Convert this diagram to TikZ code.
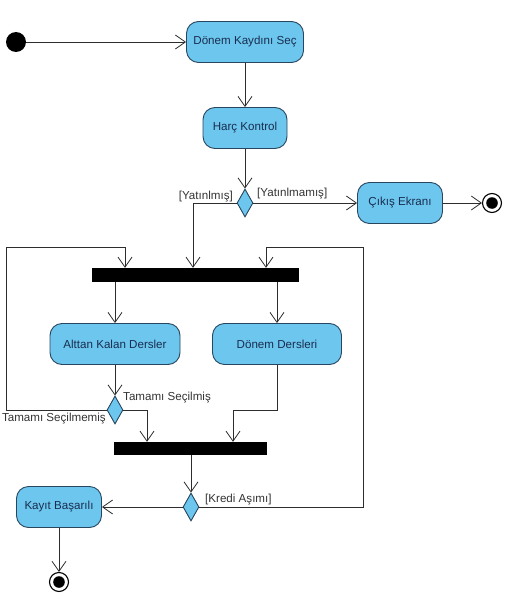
\documentclass[tikz,border=0pt]{standalone}
\usepackage{fontspec}
\setmainfont{Liberation Sans}
\usetikzlibrary{arrows.meta,shapes.geometric}
\definecolor{actfill}{RGB}{108,198,238}
\definecolor{actline}{RGB}{40,70,95}
\definecolor{acttext}{RGB}{25,45,80}
\definecolor{wire}{RGB}{45,45,45}
\tikzset{
	act/.style={draw=actline, fill=actfill, rounded corners=12pt, minimum height=41pt, inner sep=2pt, line width=0.9pt, text=acttext, font=\fontsize{11.6}{13}\selectfont},
	dec/.style={draw=actline, fill=actfill, diamond, minimum width=16pt, minimum height=28pt, inner sep=0pt, line width=0.9pt},
	bar/.style={fill=black, inner sep=0pt},
	flow/.style={draw=wire, line width=0.8pt, -{Straight Barb[length=10pt,width=14pt]}},
	lbl/.style={inner sep=1pt, text=black!80, font=\fontsize{11.6}{13}\selectfont},
	startdot/.style={circle, fill=black, minimum size=20pt, inner sep=0pt},
	enddot/.style={circle, draw=black, fill=white, line width=1.1pt, minimum size=19pt, inner sep=0pt,
		path picture={\fill[black] (path picture bounding box.center) circle (5.8pt);}}
}
\begin{document}
\begin{tikzpicture}[x=1pt, y=-1pt]
			%%%%% START %%%%%
			\useasboundingbox (0,0) rectangle (504,615);
			
			\node[startdot] (init) at (16, 42) {};
			\node[act, minimum width=117pt] (donemkayit) at (245, 42) {Dönem Kaydını Seç};
			\node[act, minimum width=84pt] (harc) at (245, 128) {Harç Kontrol};
			\node[dec] (odeme) at (245, 203) {};
			\node[act, minimum width=85pt] (cikis) at (400, 203) {Çıkış Ekranı};
			\node[enddot] (bitis1) at (492, 203) {};
			
			\node[bar, minimum width=207pt, minimum height=14pt] (fork) at (195.5, 275) {};
			\node[act, minimum width=130pt] (alttan) at (115, 344) {Alttan Kalan Dersler};
			\node[act, minimum width=129pt] (donemders) at (277, 344) {Dönem Dersleri};
			\node[dec] (secim) at (115, 410) {};
			\node[bar, minimum width=153pt, minimum height=13pt] (join) at (190.5, 448.5) {};
			\node[dec] (kredi) at (191, 507) {};
			\node[act, minimum width=85pt] (kayit) at (59, 507) {Kayıt Başarılı};
			\node[enddot] (bitis2) at (59, 582) {};
			
			\node[lbl, anchor=east] (yatmis) at (234, 197) {[Yatınlmış]};
			\node[lbl, anchor=west] (yatmamis) at (256, 194) {[Yatınlmamış]};
			\node[lbl, anchor=west] (tamam) at (122, 398) {Tamamı Seçilmiş};
			\node[lbl, anchor=east] (eksik) at (107, 419) {Tamamı Seçilmemiş};
			\node[lbl, anchor=west] (asim) at (204, 500) {[Kredi Aşımı]};
			
			\coordinate (forkin) at (193, 0);
			\coordinate (solgeri) at (6, 247);
			\coordinate (solin) at (125, 0);
			\coordinate (saggeri) at (363, 247);
			\coordinate (sagin) at (266, 0);
			\coordinate (joinin) at (147, 0);
			\coordinate (donemdon) at (233, 410);
			
			\draw[flow] (init) -- (donemkayit);
			\draw[flow] (donemkayit) -- (harc);
			\draw[flow] (harc) -- (odeme);
			\draw[flow] (odeme) -- (cikis);
			\draw[flow] (cikis) -- (bitis1);
			\draw[flow] (odeme.west) -| (forkin |- fork.north);
			
			\draw[flow] (alttan.north |- fork.south) -- (alttan);
			\draw[flow] (donemders.north |- fork.south) -- (donemders);
			\draw[flow] (alttan) -- (secim);
			\draw[flow] (secim.west) -| (solgeri) -| (solin |- fork.north);
			\draw[flow] (secim.east) -| (joinin |- join.north);
			\draw[flow] (donemders) |- (donemdon) -- (donemdon |- join.north);
			
			\draw[flow] (kredi |- join.south) -- (kredi);
			\draw[flow] (kredi) -- (kayit);
			\draw[flow] (kredi.east) -| (saggeri) -| (sagin |- fork.north);
			\draw[flow] (kayit) -- (bitis2);
			
			%%%%% END %%%%%
\end{tikzpicture}
\end{document}
